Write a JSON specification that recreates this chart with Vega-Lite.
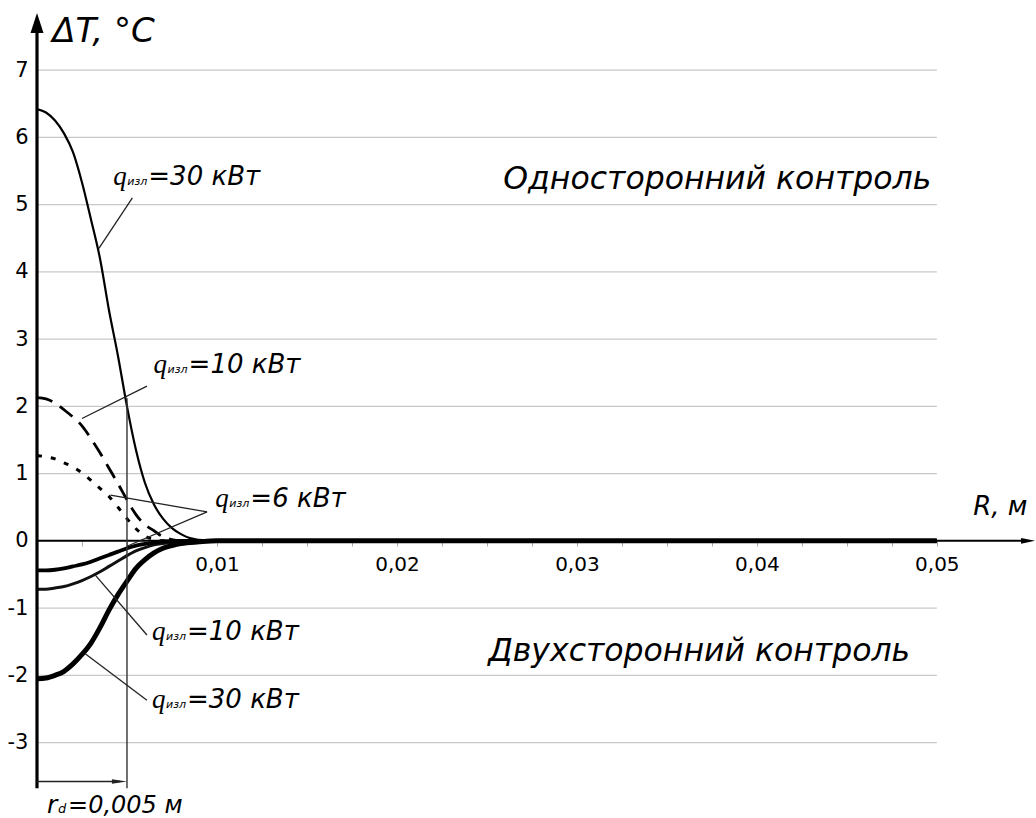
{
 "$schema": "https://vega.github.io/schema/vega-lite/v6.json",
 "width": 997,
 "height": 780,
 "autosize": {"type": "none"},
 "padding": {"left": 37, "top": 13, "right": 2, "bottom": 25},
 "background": "white",
 "config": {"view": {"stroke": null}, "font": "DejaVu Sans"},
 "datasets": {
  "grid": [{"T": -3, "R": 0, "R2": 0.05}, {"T": -2, "R": 0, "R2": 0.05}, {"T": -1, "R": 0, "R2": 0.05}, {"T": 1, "R": 0, "R2": 0.05}, {"T": 2, "R": 0, "R2": 0.05}, {"T": 3, "R": 0, "R2": 0.05}, {"T": 4, "R": 0, "R2": 0.05}, {"T": 5, "R": 0, "R2": 0.05}, {"T": 6, "R": 0, "R2": 0.05}, {"T": 7, "R": 0, "R2": 0.05}],
  "curves": [
   {"s": "one30", "R": 0, "T": 6.42}, {"s": "one30", "R": 0.0005, "T": 6.37}, {"s": "one30", "R": 0.001, "T": 6.25}, {"s": "one30", "R": 0.0015, "T": 6.06}, {"s": "one30", "R": 0.002, "T": 5.78}, {"s": "one30", "R": 0.0025, "T": 5.33}, {"s": "one30", "R": 0.003, "T": 4.78}, {"s": "one30", "R": 0.0035, "T": 4.2}, {"s": "one30", "R": 0.004, "T": 3.43}, {"s": "one30", "R": 0.0045, "T": 2.75}, {"s": "one30", "R": 0.005, "T": 2.0}, {"s": "one30", "R": 0.0055, "T": 1.35}, {"s": "one30", "R": 0.006, "T": 0.86}, {"s": "one30", "R": 0.0065, "T": 0.54}, {"s": "one30", "R": 0.007, "T": 0.33}, {"s": "one30", "R": 0.0075, "T": 0.19}, {"s": "one30", "R": 0.008, "T": 0.1}, {"s": "one30", "R": 0.0085, "T": 0.04}, {"s": "one30", "R": 0.009, "T": 0.015}, {"s": "one30", "R": 0.0095, "T": 0.005}, {"s": "one30", "R": 0.01, "T": 0}, {"s": "one30", "R": 0.05, "T": 0},
   {"s": "one10", "R": 0, "T": 2.13}, {"s": "one10", "R": 0.0005, "T": 2.11}, {"s": "one10", "R": 0.001, "T": 2.05}, {"s": "one10", "R": 0.0015, "T": 1.95}, {"s": "one10", "R": 0.002, "T": 1.84}, {"s": "one10", "R": 0.0025, "T": 1.71}, {"s": "one10", "R": 0.003, "T": 1.52}, {"s": "one10", "R": 0.0035, "T": 1.31}, {"s": "one10", "R": 0.004, "T": 1.08}, {"s": "one10", "R": 0.0045, "T": 0.85}, {"s": "one10", "R": 0.005, "T": 0.61}, {"s": "one10", "R": 0.0055, "T": 0.39}, {"s": "one10", "R": 0.006, "T": 0.24}, {"s": "one10", "R": 0.0065, "T": 0.15}, {"s": "one10", "R": 0.007, "T": 0.06}, {"s": "one10", "R": 0.0075, "T": 0.02}, {"s": "one10", "R": 0.008, "T": 0}, {"s": "one10", "R": 0.05, "T": 0},
   {"s": "one6", "R": 0, "T": 1.27}, {"s": "one6", "R": 0.0005, "T": 1.25}, {"s": "one6", "R": 0.001, "T": 1.22}, {"s": "one6", "R": 0.0015, "T": 1.16}, {"s": "one6", "R": 0.002, "T": 1.1}, {"s": "one6", "R": 0.0025, "T": 1.01}, {"s": "one6", "R": 0.003, "T": 0.9}, {"s": "one6", "R": 0.0035, "T": 0.78}, {"s": "one6", "R": 0.004, "T": 0.66}, {"s": "one6", "R": 0.0045, "T": 0.5}, {"s": "one6", "R": 0.005, "T": 0.33}, {"s": "one6", "R": 0.0055, "T": 0.18}, {"s": "one6", "R": 0.006, "T": 0.07}, {"s": "one6", "R": 0.0065, "T": 0.02}, {"s": "one6", "R": 0.007, "T": 0}, {"s": "one6", "R": 0.05, "T": 0},
   {"s": "two30", "R": 0, "T": -2.05}, {"s": "two30", "R": 0.0005, "T": -2.04}, {"s": "two30", "R": 0.001, "T": -2.0}, {"s": "two30", "R": 0.0015, "T": -1.94}, {"s": "two30", "R": 0.002, "T": -1.83}, {"s": "two30", "R": 0.0025, "T": -1.69}, {"s": "two30", "R": 0.003, "T": -1.52}, {"s": "two30", "R": 0.0035, "T": -1.29}, {"s": "two30", "R": 0.004, "T": -1.03}, {"s": "two30", "R": 0.0045, "T": -0.8}, {"s": "two30", "R": 0.005, "T": -0.6}, {"s": "two30", "R": 0.0055, "T": -0.41}, {"s": "two30", "R": 0.006, "T": -0.28}, {"s": "two30", "R": 0.0065, "T": -0.18}, {"s": "two30", "R": 0.007, "T": -0.11}, {"s": "two30", "R": 0.0075, "T": -0.07}, {"s": "two30", "R": 0.008, "T": -0.04}, {"s": "two30", "R": 0.009, "T": -0.015}, {"s": "two30", "R": 0.01, "T": 0}, {"s": "two30", "R": 0.05, "T": 0},
   {"s": "two10", "R": 0, "T": -0.72}, {"s": "two10", "R": 0.0005, "T": -0.72}, {"s": "two10", "R": 0.001, "T": -0.7}, {"s": "two10", "R": 0.0015, "T": -0.68}, {"s": "two10", "R": 0.002, "T": -0.64}, {"s": "two10", "R": 0.0025, "T": -0.59}, {"s": "two10", "R": 0.003, "T": -0.53}, {"s": "two10", "R": 0.0035, "T": -0.46}, {"s": "two10", "R": 0.004, "T": -0.38}, {"s": "two10", "R": 0.0045, "T": -0.3}, {"s": "two10", "R": 0.005, "T": -0.22}, {"s": "two10", "R": 0.0055, "T": -0.15}, {"s": "two10", "R": 0.006, "T": -0.1}, {"s": "two10", "R": 0.0065, "T": -0.06}, {"s": "two10", "R": 0.007, "T": -0.04}, {"s": "two10", "R": 0.008, "T": -0.015}, {"s": "two10", "R": 0.009, "T": 0}, {"s": "two10", "R": 0.05, "T": 0},
   {"s": "two6", "R": 0, "T": -0.44}, {"s": "two6", "R": 0.0005, "T": -0.44}, {"s": "two6", "R": 0.001, "T": -0.43}, {"s": "two6", "R": 0.0015, "T": -0.41}, {"s": "two6", "R": 0.002, "T": -0.38}, {"s": "two6", "R": 0.0025, "T": -0.35}, {"s": "two6", "R": 0.003, "T": -0.31}, {"s": "two6", "R": 0.0035, "T": -0.26}, {"s": "two6", "R": 0.004, "T": -0.21}, {"s": "two6", "R": 0.0045, "T": -0.16}, {"s": "two6", "R": 0.005, "T": -0.11}, {"s": "two6", "R": 0.0055, "T": -0.07}, {"s": "two6", "R": 0.006, "T": -0.045}, {"s": "two6", "R": 0.0065, "T": -0.025}, {"s": "two6", "R": 0.007, "T": -0.01}, {"s": "two6", "R": 0.008, "T": 0}, {"s": "two6", "R": 0.05, "T": 0}
  ],
  "leaders": [
   {"id": 1, "R": 0.00344, "T": 4.35}, {"id": 1, "R": 0.0053, "T": 5.1},
   {"id": 2, "R": 0.0025, "T": 1.82}, {"id": 2, "R": 0.00611, "T": 2.3},
   {"id": 3, "R": 0.00408, "T": 0.68}, {"id": 3, "R": 0.00945, "T": 0.43},
   {"id": 4, "R": 0.005, "T": -0.08}, {"id": 4, "R": 0.00945, "T": 0.43},
   {"id": 5, "R": 0.00324, "T": -0.51}, {"id": 5, "R": 0.00611, "T": -1.4},
   {"id": 6, "R": 0.00268, "T": -1.68}, {"id": 6, "R": 0.00611, "T": -2.37}
  ],
  "qlabels": [
   {"R": 0.00424, "T": 5.29, "v": "=30 кВт"},
   {"R": 0.00648, "T": 2.5, "v": "=10 кВт"},
   {"R": 0.00991, "T": 0.5, "v": "=6 кВт"},
   {"R": 0.00639, "T": -1.48, "v": "=10 кВт"},
   {"R": 0.00639, "T": -2.49, "v": "=30 кВт"}
  ],
  "titles": [
   {"R": 0.02591, "T": 5.24, "v": "Односторонний контроль"},
   {"R": 0.02507, "T": -1.79, "v": "Двухсторонний контроль"}
  ]
 },
 "encoding": {
  "x": {"field": "R", "type": "quantitative", "title": null,
   "scale": {"domain": [0, 0.0554], "nice": false, "zero": false},
   "axis": {"orient": "bottom", "offset": -252, "domain": false, "grid": false,
    "values": [0.0025, 0.005, 0.0075, 0.01, 0.0125, 0.015, 0.0175, 0.02, 0.0225, 0.025, 0.0275, 0.03, 0.0325, 0.035, 0.0375, 0.04, 0.0425, 0.045, 0.0475, 0.05],
    "labelExpr": "(round(datum.value*10000) % 100 == 0) ? replace(format(datum.value, '.2f'), '.', ',') : ''",
    "tickSize": 5, "tickColor": "#aaaaaa", "tickWidth": 1,
    "labelFontSize": 20, "labelColor": "black", "labelFont": "DejaVu Sans",
    "labelPadding": 8, "labelDx": 15, "labelOverlap": false, "labelFlush": false, "title": null}},
  "y": {"field": "T", "type": "quantitative", "title": null,
   "scale": {"domain": [-3.75, 7.85], "nice": false, "zero": false},
   "axis": {"domain": false, "grid": false, "ticks": false,
    "values": [-3, -2, -1, 0, 1, 2, 3, 4, 5, 6, 7],
    "labelExpr": "'' + datum.value",
    "labelFontSize": 21, "labelColor": "black", "labelFont": "DejaVu Sans",
    "labelPadding": 9, "title": null}}
 },
 "layer": [
  {"data": {"name": "grid"}, "mark": {"type": "rule", "stroke": "#c8c8c8", "strokeWidth": 1.3},
   "encoding": {"x2": {"field": "R2"}}},
  {"data": {"name": "curves"}, "transform": [{"filter": "datum.s === 'one10'"}],
   "mark": {"type": "line", "interpolate": "monotone", "color": "black", "strokeWidth": 2.8, "strokeDash": [16, 9]}, "encoding": {}},
  {"data": {"name": "curves"}, "transform": [{"filter": "datum.s === 'one6'"}],
   "mark": {"type": "line", "interpolate": "monotone", "color": "black", "strokeWidth": 3, "strokeDash": [5, 9]}, "encoding": {}},
  {"data": {"name": "curves"}, "transform": [{"filter": "datum.s === 'one30'"}],
   "mark": {"type": "line", "interpolate": "monotone", "color": "black", "strokeWidth": 2.2}, "encoding": {}},
  {"data": {"name": "curves"}, "transform": [{"filter": "datum.s === 'two10'"}],
   "mark": {"type": "line", "interpolate": "monotone", "color": "#111111", "strokeWidth": 3}, "encoding": {}},
  {"data": {"name": "curves"}, "transform": [{"filter": "datum.s === 'two6'"}],
   "mark": {"type": "line", "interpolate": "monotone", "color": "black", "strokeWidth": 3.8}, "encoding": {}},
  {"data": {"name": "curves"}, "transform": [{"filter": "datum.s === 'two30'"}],
   "mark": {"type": "line", "interpolate": "monotone", "color": "black", "strokeWidth": 5}, "encoding": {}},
  {"data": {"values": [{"R": 0, "R2": 0.0549, "T": 0}]}, "mark": {"type": "rule", "color": "black", "strokeWidth": 2},
   "encoding": {"x2": {"field": "R2"}}},
  {"data": {"values": [{"R": 0, "T": -3.68, "T2": 7.6}]}, "mark": {"type": "rule", "color": "black", "strokeWidth": 3.2},
   "encoding": {"y2": {"field": "T2"}}},
  {"data": {"values": [{"R": 0.005, "T": -3.68, "T2": 2.12}]}, "mark": {"type": "rule", "color": "#333333", "strokeWidth": 1.4},
   "encoding": {"y2": {"field": "T2"}}},
  {"data": {"values": [{"R": 0, "R2": 0.0046, "T": -3.58}]}, "mark": {"type": "rule", "color": "#222222", "strokeWidth": 1.5},
   "encoding": {"x2": {"field": "R2"}}},
  {"data": {"values": [{"R": 0, "T": 7.7}]}, "mark": {"type": "point", "shape": "M0,-1L0.65,1L-0.65,1Z", "filled": true, "color": "black", "opacity": 1, "size": 400}, "encoding": {}},
  {"data": {"values": [{"R": 0.05507, "T": 0}]}, "mark": {"type": "point", "shape": "M1,0L-1,-0.42L-1,0.42Z", "filled": true, "color": "black", "opacity": 1, "size": 196}, "encoding": {}},
  {"data": {"values": [{"R": 0.00458, "T": -3.58}]}, "mark": {"type": "point", "shape": "M1,0L-1,-0.3L-1,0.3Z", "filled": true, "color": "#222222", "opacity": 1, "size": 225}, "encoding": {}},
  {"data": {"name": "leaders"}, "mark": {"type": "line", "color": "#222222", "strokeWidth": 1.3},
   "encoding": {"detail": {"field": "id", "type": "nominal"}}},
  {"data": {"name": "qlabels"}, "mark": {"type": "text", "text": "q", "font": "Liberation Serif", "fontStyle": "italic", "fontSize": 27, "align": "left", "baseline": "alphabetic", "color": "black"}, "encoding": {}},
  {"data": {"name": "qlabels"}, "mark": {"type": "text", "text": "изл", "font": "DejaVu Sans", "fontStyle": "italic", "fontSize": 11, "align": "left", "baseline": "alphabetic", "dx": 14, "color": "black"}, "encoding": {}},
  {"data": {"name": "qlabels"}, "mark": {"type": "text", "font": "DejaVu Sans", "fontStyle": "italic", "fontSize": 26, "align": "left", "baseline": "alphabetic", "dx": 35, "color": "black"},
   "encoding": {"text": {"field": "v"}}},
  {"data": {"name": "titles"}, "mark": {"type": "text", "font": "DejaVu Sans", "fontStyle": "italic", "fontSize": 31.5, "align": "left", "baseline": "alphabetic", "color": "black"},
   "encoding": {"text": {"field": "v"}}},
  {"data": {"values": [{"R": 0.00085, "T": 7.42, "v": "ΔT, °C"}]}, "mark": {"type": "text", "font": "DejaVu Sans", "fontStyle": "italic", "fontSize": 34, "align": "left", "baseline": "alphabetic", "color": "black"},
   "encoding": {"text": {"field": "v"}}},
  {"data": {"values": [{"R": 0.05202, "T": 0.38, "v": "R, м"}]}, "mark": {"type": "text", "font": "DejaVu Sans", "fontStyle": "italic", "fontSize": 26, "align": "left", "baseline": "alphabetic", "color": "black"},
   "encoding": {"text": {"field": "v"}}},
  {"data": {"values": [{"R": 0.00056, "T": -4.04, "v": "r"}]}, "mark": {"type": "text", "font": "DejaVu Sans", "fontStyle": "italic", "fontSize": 25, "align": "left", "baseline": "alphabetic", "color": "black"},
   "encoding": {"text": {"field": "v"}}},
  {"data": {"values": [{"R": 0.00056, "T": -4.04, "v": "d"}]}, "mark": {"type": "text", "font": "DejaVu Sans", "fontStyle": "italic", "fontSize": 13, "align": "left", "baseline": "alphabetic", "dx": 11, "color": "black"},
   "encoding": {"text": {"field": "v"}}},
  {"data": {"values": [{"R": 0.00056, "T": -4.04, "v": "=0,005 м"}]}, "mark": {"type": "text", "font": "DejaVu Sans", "fontStyle": "italic", "fontSize": 24, "align": "left", "baseline": "alphabetic", "dx": 21, "color": "black"},
   "encoding": {"text": {"field": "v"}}}
 ]
}
